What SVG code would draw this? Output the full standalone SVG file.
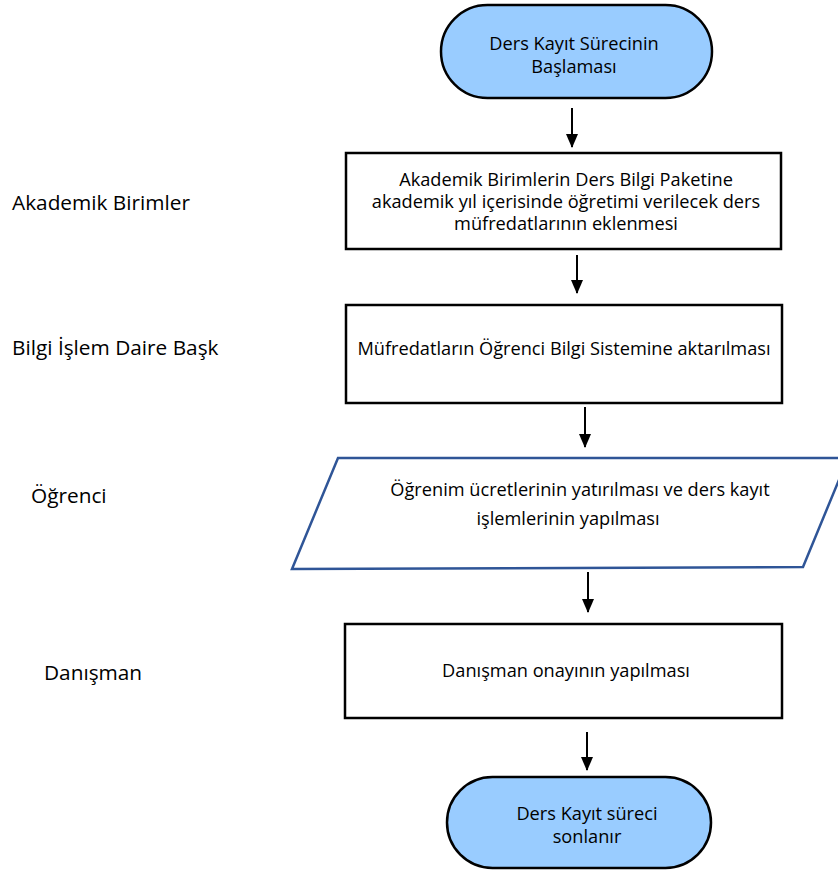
<svg xmlns="http://www.w3.org/2000/svg" width="838" height="877" viewBox="0 0 838 877">
<defs>
<marker id="ah" markerWidth="14" markerHeight="12" refX="13" refY="6" orient="auto" markerUnits="userSpaceOnUse" viewBox="0 0 14 12">
<path d="M0,0 L14,6 L0,12 Z" fill="#000"/>
</marker>
<style>
text{font-family:"Open Sans","Noto Sans",sans-serif;fill:#000;}
.t{font-size:18.2px;text-anchor:middle;}
.lbl{font-size:20.8px;}
.term{fill:#99CCFF;stroke:#000;stroke-width:2.5;}
.box{fill:#fff;stroke:#000;stroke-width:2.5;}
.para{fill:#fff;stroke:#2F5597;stroke-width:2.5;}
.conn line{stroke:#000;stroke-width:2;marker-end:url(#ah);}
</style>
</defs>
<rect width="838" height="877" fill="#fff"/>
<g id="labels">
<text class="lbl" x="12" y="210">Akademik Birimler</text>
<text class="lbl" x="12" y="355">Bilgi İşlem Daire Başk</text>
<text class="lbl" x="31" y="503">Öğrenci</text>
<text class="lbl" x="44" y="680">Danışman</text>
</g>
<g id="start">
<rect class="term" x="441" y="5" width="271" height="93" rx="46.5" ry="46.5"/>
<text class="t" x="574" y="50">Ders Kayıt Sürecinin</text>
<text class="t" x="574" y="73">Başlaması</text>
</g>
<g id="step1">
<rect class="box" x="346" y="153" width="435" height="96"/>
<text class="t" x="566" y="186">Akademik Birimlerin Ders Bilgi Paketine</text>
<text class="t" x="566" y="208">akademik yıl içerisinde öğretimi verilecek ders</text>
<text class="t" x="566" y="230">müfredatlarının eklenmesi</text>
</g>
<g id="step2">
<rect class="box" x="346" y="305" width="436" height="98"/>
<text class="t" x="564" y="355">Müfredatların Öğrenci Bilgi Sistemine aktarılması</text>
</g>
<g id="step3">
<polygon class="para" points="338,458 848,458 803,567 292,569"/>
<text class="t" x="580" y="496">Öğrenim ücretlerinin yatırılması ve ders kayıt</text>
<text class="t" x="568" y="525">işlemlerinin yapılması</text>
</g>
<g id="step4">
<rect class="box" x="345" y="624" width="437" height="94"/>
<text class="t" x="566" y="677">Danışman onayının yapılması</text>
</g>
<g id="end">
<rect class="term" x="447" y="777" width="264" height="91" rx="45.5" ry="45.5"/>
<text class="t" x="587" y="820">Ders Kayıt süreci</text>
<text class="t" x="587" y="843">sonlanır</text>
</g>
<g id="connectors" class="conn">
<line x1="572" y1="108" x2="572" y2="147"/>
<line x1="577" y1="255" x2="577" y2="293"/>
<line x1="585" y1="407" x2="585" y2="447"/>
<line x1="588" y1="572" x2="588" y2="612"/>
<line x1="587" y1="732" x2="587" y2="770"/>
</g>
</svg>
